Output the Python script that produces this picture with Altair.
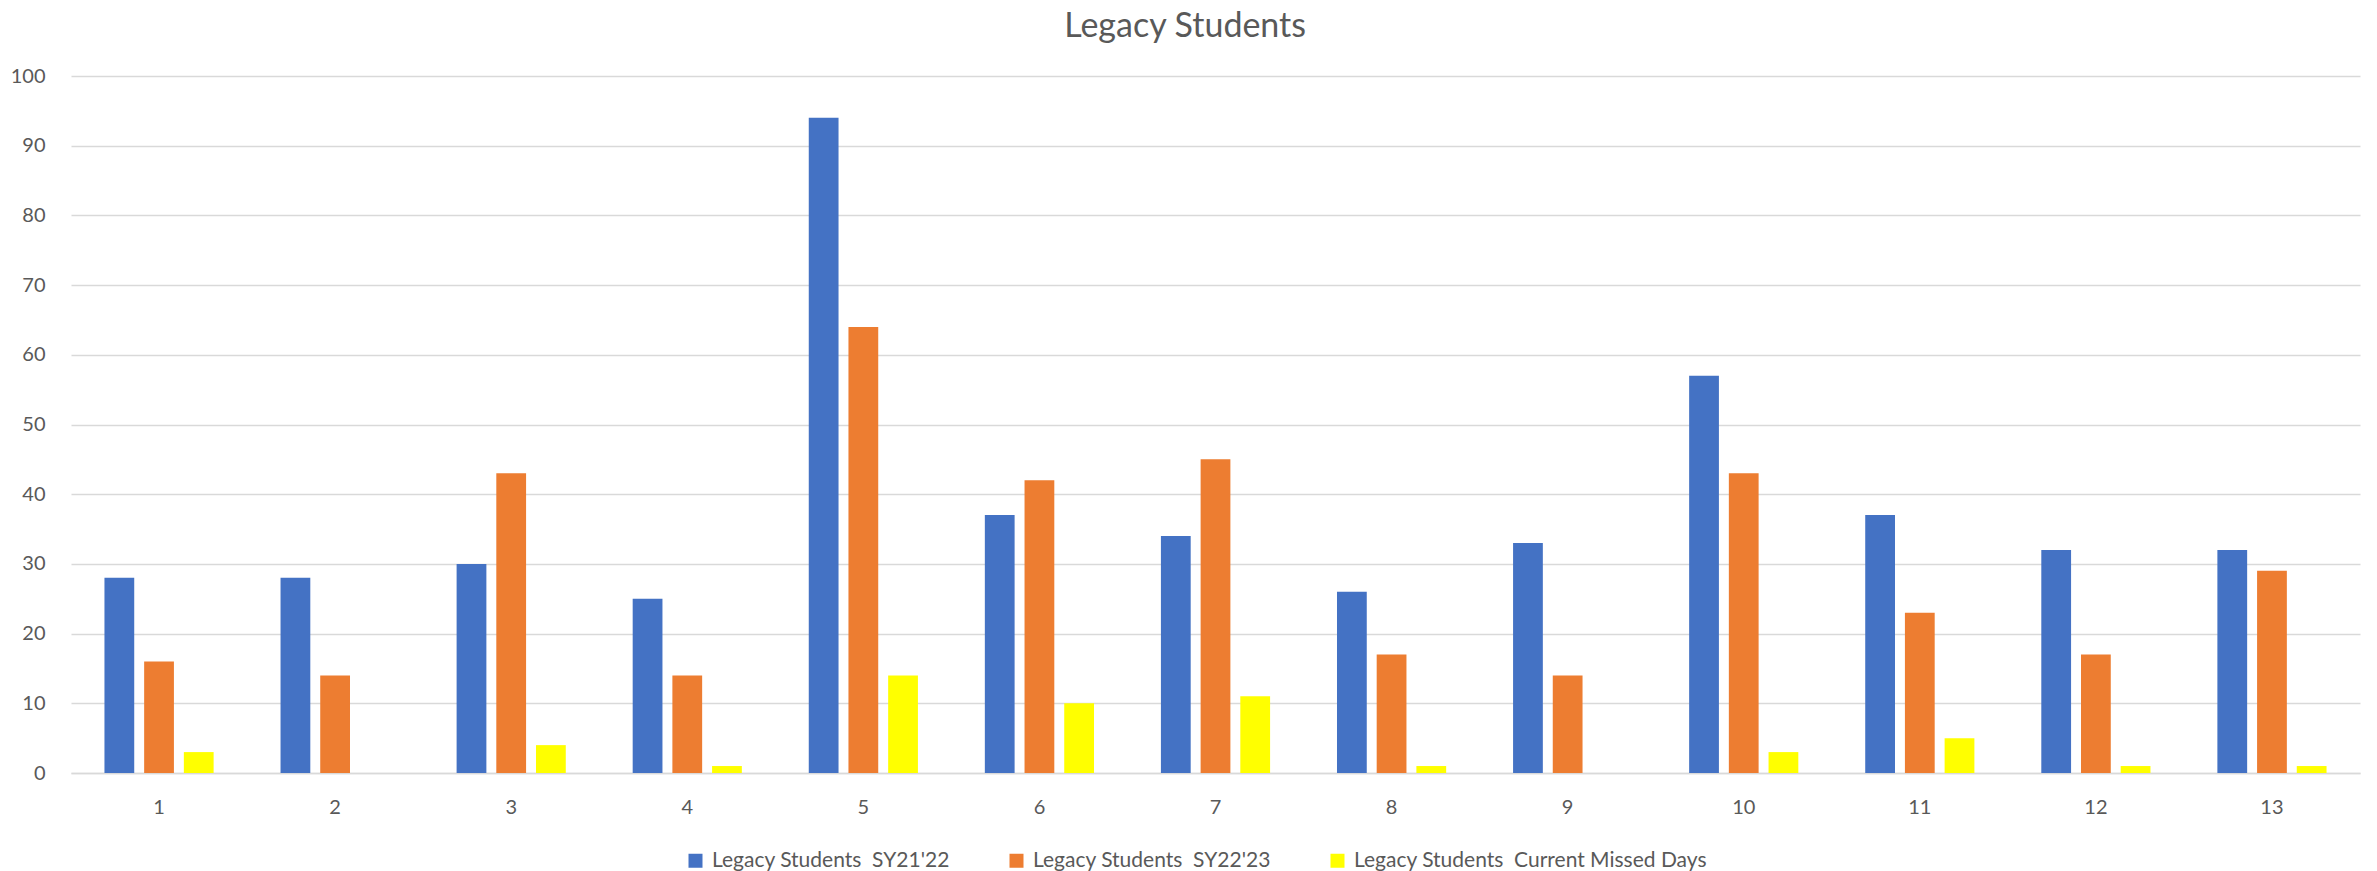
import altair as alt
import pandas as pd

categories = [str(i) for i in range(1, 14)]
series_names = ["Legacy Students  SY21'22", "Legacy Students  SY22'23", "Legacy Students  Current Missed Days"]
sy21_22 = [28, 28, 30, 25, 94, 37, 34, 26, 33, 57, 37, 32, 32]
sy22_23 = [16, 14, 43, 14, 64, 42, 45, 17, 14, 43, 23, 17, 29]
missed = [3, 0, 4, 1, 14, 10, 11, 1, 0, 3, 5, 1, 1]
colors = ["#4472C4", "#ED7D31", "#FFFF00"]

rows = []
for name, vals in zip(series_names, [sy21_22, sy22_23, missed]):
    for c, v in zip(categories, vals):
        rows.append({"category": c, "series": name, "value": v})
df = pd.DataFrame(rows)

FONT = "Liberation Sans Narrow, Lato, sans-serif"
TXT = "#595959"

chart = alt.Chart(df).mark_bar().encode(
    x=alt.X("category:N", sort=categories, title=None,
            scale=alt.Scale(paddingInner=0.38, paddingOuter=0.19),
            axis=alt.Axis(labelAngle=0, ticks=False, domain=True, domainColor="#D9D9D9",
                          domainWidth=1.5, labelPadding=24, labelFontSize=20,
                          labelColor=TXT, labelFont=FONT)),
    xOffset=alt.XOffset("series:N", sort=series_names,
                        scale=alt.Scale(paddingInner=0.25, paddingOuter=0)),
    y=alt.Y("value:Q", title=None,
            scale=alt.Scale(domain=[0, 100], nice=False),
            axis=alt.Axis(values=list(range(0, 101, 10)), ticks=False, domain=False,
                          grid=True, gridColor="#D9D9D9", gridWidth=1.5,
                          labelPadding=26, labelFontSize=20, labelColor=TXT, labelFont=FONT)),
    color=alt.Color("series:N", sort=series_names,
                    scale=alt.Scale(domain=series_names, range=colors),
                    legend=alt.Legend(title=None, orient="none", direction="horizontal",
                                      legendX=614, legendY=774,
                                      symbolType="square", symbolSize=196,
                                      symbolStrokeWidth=0, labelFontSize=21,
                                      labelColor=TXT, labelFont=FONT, columnPadding=56,
                                      labelOffset=6, labelLimit=0,
                                      labelExpr="replace(datum.label, '  ', '\u00a0 ')")),
).properties(
    width=2289, height=697,
    title=alt.Title("Legacy Students", fontSize=34, font=FONT, color=TXT,
                    fontWeight="normal", anchor="middle", frame="bounds", offset=22),
    autosize=alt.AutoSizeParams(type="none"),
    padding={"left": 63, "top": 68, "right": 9, "bottom": 98},
).configure_view(stroke=None)

chart.save("out.html", embed_options={"renderer": "svg", "actions": False})
